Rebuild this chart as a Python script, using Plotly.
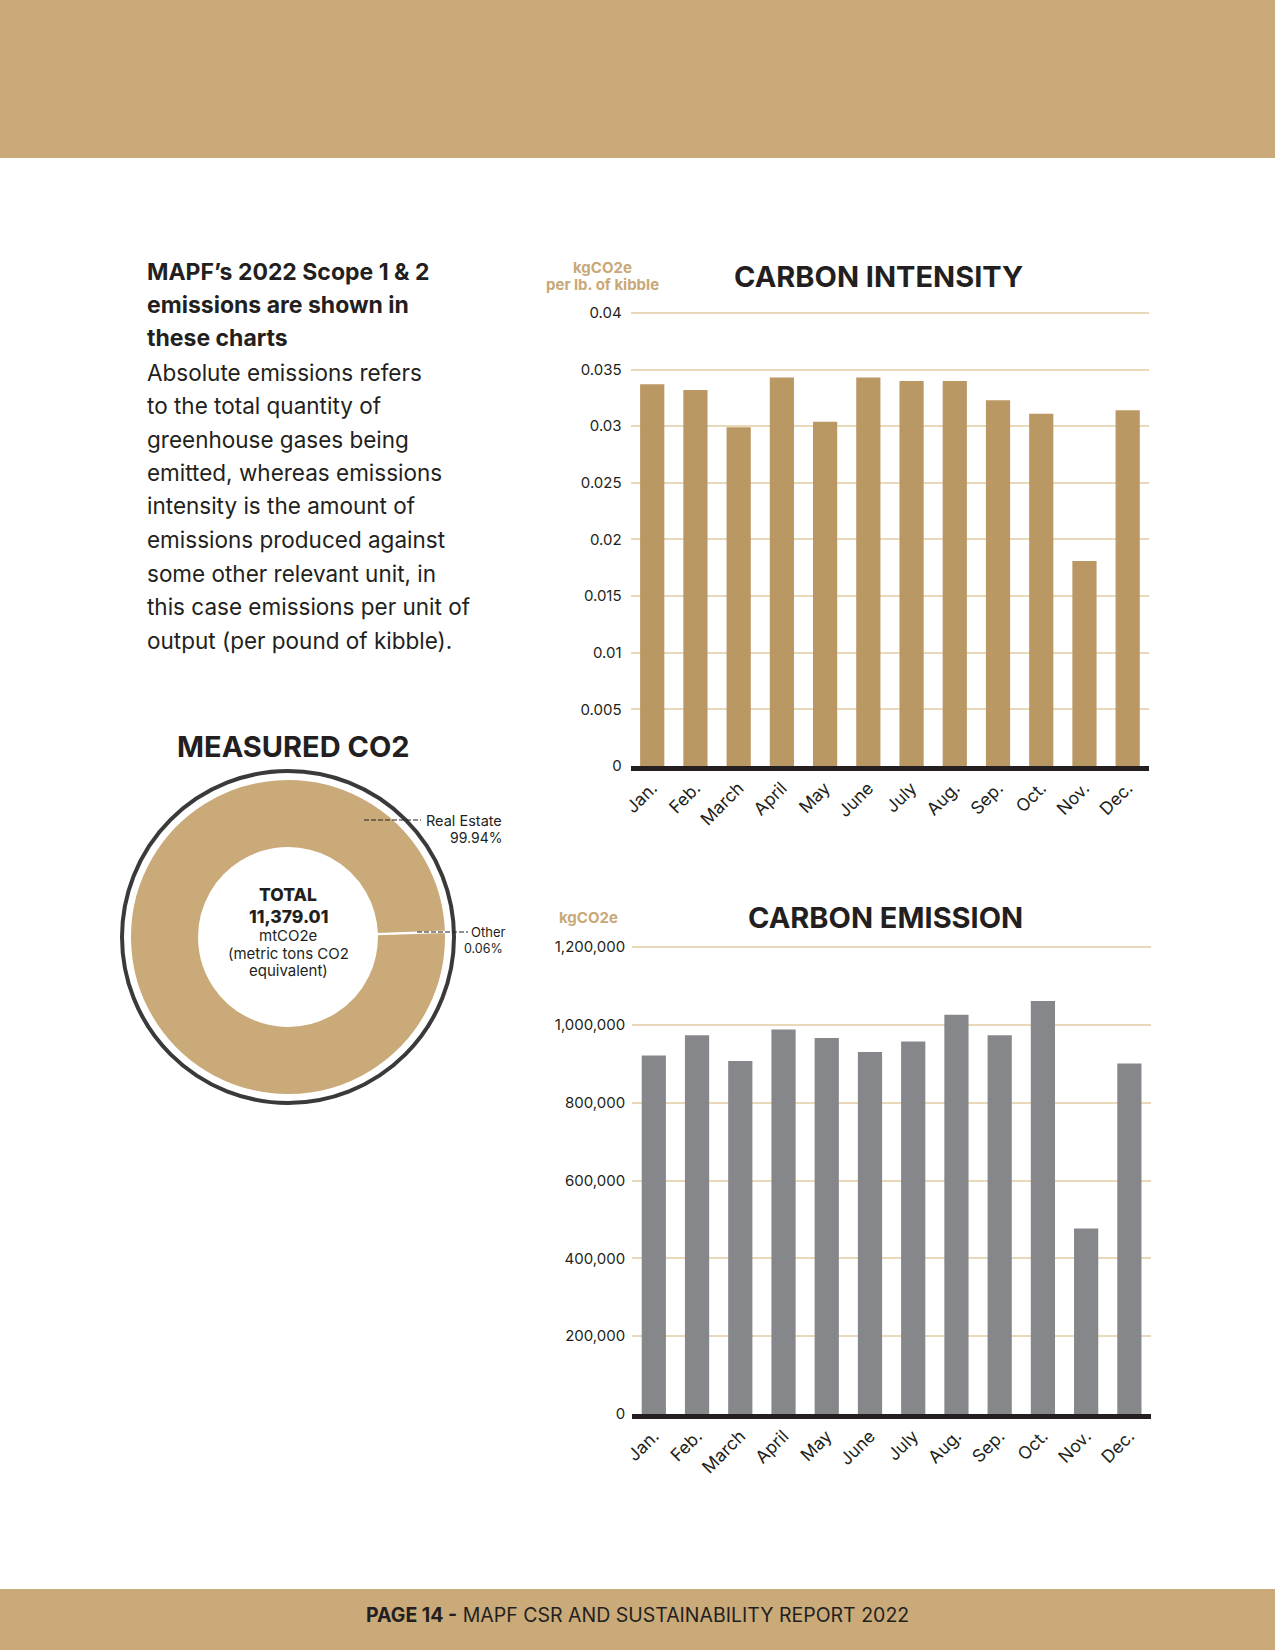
import plotly.graph_objects as go

# ---------------- data ----------------
months = ["Jan.", "Feb.", "March", "April", "May", "June", "July", "Aug.", "Sep.", "Oct.", "Nov.", "Dec."]
intensity = [0.0337, 0.0332, 0.0299, 0.0343, 0.0304, 0.0343, 0.0340, 0.0340, 0.0323, 0.0311, 0.0181, 0.0314]
emission = [921000, 973000, 907000, 988000, 966000, 930000, 957000, 1026000, 973000, 1061000, 477000, 901000]

intensity_tickvals = [0, 0.005, 0.01, 0.015, 0.02, 0.025, 0.03, 0.035, 0.04]
intensity_ticktext = ["0", "0.005", "0.01", "0.015", "0.02", "0.025", "0.03", "0.035", "0.04"]
emission_tickvals = [0, 200000, 400000, 600000, 800000, 1000000, 1200000]
emission_ticktext = ["0", "200,000", "400,000", "600,000", "800,000", "1,000,000", "1,200,000"]

sources = ["Other", "Real Estate"]
shares = [0.06, 99.94]
share_labels = ["0.06%", "99.94%"]
total_value = "11,379.01"

heading_lines = ["MAPF’s 2022 Scope 1 & 2", "emissions are shown in", "these charts"]
body_lines = ["Absolute emissions refers", "to the total quantity of", "greenhouse gases being",
              "emitted, whereas emissions", "intensity is the amount of", "emissions produced against",
              "some other relevant unit, in", "this case emissions per unit of",
              "output (per pound of kibble)."]

# ---------------- styling ----------------
W, H = 1275, 1650
TAN = "#CAAA78"
TAN_TEXT = "#C9A877"
DARK = "#231F20"
GRID = "#EAD8BA"
FONT = "Inter"


def px(x):
    return x / W


def py(y):
    return 1 - y / H


fig = go.Figure()

# Carbon intensity bars
fig.add_trace(go.Bar(x=months, y=intensity, xaxis="x", yaxis="y",
                     marker=dict(color="#BA9864", line=dict(width=0)),
                     showlegend=False, hoverinfo="x+y"))
# Carbon emission bars
fig.add_trace(go.Bar(x=months, y=emission, xaxis="x2", yaxis="y2",
                     marker=dict(color="#85878A", line=dict(width=0)),
                     showlegend=False, hoverinfo="x+y"))
# Donut
fig.add_trace(go.Pie(labels=sources, values=shares, hole=0.563, sort=False,
                     direction="clockwise", rotation=88, automargin=False,
                     marker=dict(colors=[TAN, TAN], line=dict(color="white", width=2)),
                     textinfo="none", showlegend=False,
                     domain=dict(x=[px(288 - 158), px(288 + 158)], y=[py(937 + 158), py(937 - 158)])))

xaxis_common = dict(type="category", tickangle=-45, showgrid=False, zeroline=False,
                    showline=True, linecolor=DARK, linewidth=5, automargin=False,
                    tickfont=dict(family=FONT, size=17.5, color=DARK), fixedrange=True)

fig.update_layout(
    width=W, height=H, margin=dict(l=0, r=0, t=0, b=0, pad=0, autoexpand=False),
    paper_bgcolor="white", plot_bgcolor="white",
    showlegend=False,
    bargap=0.44,
    font=dict(family=FONT, color=DARK),
    xaxis=dict(domain=[px(630.6), px(1149.3)], anchor="y", **xaxis_common),
    yaxis=dict(domain=[py(766), py(310.7)], anchor="x", range=[0, 0.0402],
               tickvals=intensity_tickvals, ticktext=intensity_ticktext,
               showgrid=True, gridcolor=GRID, gridwidth=1.5, zeroline=False, showline=False,
               ticklabelstandoff=8, automargin=False,
               tickfont=dict(family=FONT, size=15, color=DARK), fixedrange=True),
    xaxis2=dict(domain=[px(632.2), px(1151)], anchor="y2", **xaxis_common),
    yaxis2=dict(domain=[py(1414), py(944.7)], anchor="x2", range=[0, 1206000],
                tickvals=emission_tickvals, ticktext=emission_ticktext,
                showgrid=True, gridcolor=GRID, gridwidth=1.5, zeroline=False, showline=False,
                ticklabelstandoff=6, automargin=False,
                tickfont=dict(family=FONT, size=15, color=DARK), fixedrange=True),
)

shapes = [
    dict(type="rect", xref="paper", yref="paper", x0=0, x1=1, y0=py(158), y1=1,
         fillcolor=TAN, line=dict(width=0), layer="below"),
    dict(type="rect", xref="paper", yref="paper", x0=0, x1=1, y0=0, y1=py(1589),
         fillcolor=TAN, line=dict(width=0), layer="below"),
    dict(type="circle", xref="paper", yref="paper",
         x0=px(288 - 166), x1=px(288 + 166), y0=py(937 + 166), y1=py(937 - 166),
         line=dict(color="#3A3A3A", width=4)),
    dict(type="line", xref="paper", yref="paper", x0=px(364), x1=px(421), y0=py(820), y1=py(820),
         line=dict(color=DARK, width=1, dash="5px,2px")),
    dict(type="line", xref="paper", yref="paper", x0=px(417), x1=px(468), y0=py(932), y1=py(932),
         line=dict(color=DARK, width=1, dash="5px,2px")),
]
fig.update_layout(shapes=shapes)

ann = []


def text(x, y, s, size, color=DARK, xanchor="center", weight=400, family=FONT):
    ann.append(dict(xref="paper", yref="paper", x=px(x), y=py(y), text=s, showarrow=False,
                    xanchor=xanchor, yanchor="middle",
                    font=dict(family=family, size=size, color=color, weight=weight)))


# left paragraph
y0 = 271.5
for i, line in enumerate(heading_lines):
    text(145, y0 + i * 33.5, line, 23, xanchor="left", weight=700)
for j, line in enumerate(body_lines):
    text(145, y0 + (len(heading_lines) + j) * 33.5, line, 22.5, xanchor="left")

# titles
text(878, 277, "CARBON INTENSITY", 29, weight=700)
text(602, 267, "kgCO2e", 15, color=TAN_TEXT, weight=700)
text(602, 284, "per lb. of kibble", 15, color=TAN_TEXT, weight=700)
text(885, 917, "CARBON EMISSION", 29, weight=700)
text(588, 917, "kgCO2e", 15, color=TAN_TEXT, weight=700)
text(293, 746, "MEASURED CO2", 29, weight=700)

# donut centre
text(288, 894, "TOTAL", 17.5, weight=800)
text(288, 916, total_value, 17.5, weight=800)
text(288, 935, "mtCO2e", 15)
text(288, 953, "(metric tons CO2", 15)
text(288, 970, "equivalent)", 15)

# donut labels
text(504, 820, sources[1], 14.5, xanchor="right")
text(504, 837, share_labels[1], 14, xanchor="right")
text(469, 932, sources[0], 13, xanchor="left")
text(505, 948, share_labels[0], 12.5, xanchor="right")

# footer
text(637, 1615, "<b>PAGE 14 -</b> MAPF CSR AND SUSTAINABILITY REPORT 2022", 19.5)

fig.update_layout(annotations=ann)

fig.write_html("out.html", config={"displayModeBar": False},
               post_script="document.body.style.margin='0';document.body.style.overflow='hidden';")
